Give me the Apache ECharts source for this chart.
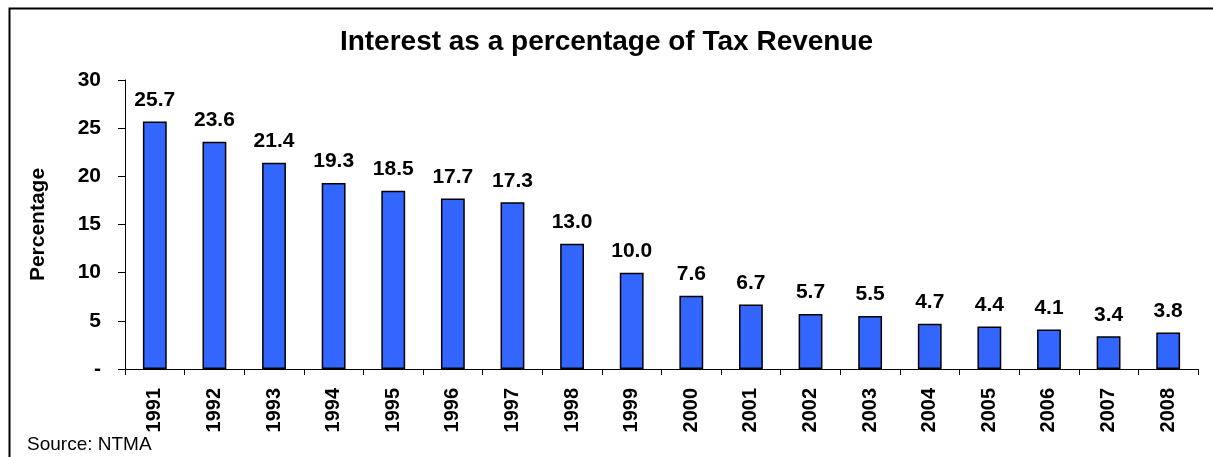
<!DOCTYPE html>
<html>
<head>
<meta charset="utf-8">
<style>
  html, body { margin: 0; padding: 0; background: #fff; }
  #chart { width: 1213px; height: 457px; }
</style>
<script src="https://cdn.jsdelivr.net/npm/echarts@6/dist/echarts.min.js"></script>
</head>
<body>
<div id="chart"></div>
<script>
// Interest payments as a share of tax revenue, by year
const years = ['1991', '1992', '1993', '1994', '1995', '1996', '1997', '1998', '1999',
               '2000', '2001', '2002', '2003', '2004', '2005', '2006', '2007', '2008'];
const interestPct = [25.7, 23.6, 21.4, 19.3, 18.5, 17.7, 17.3, 13.0, 10.0,
                     7.6, 6.7, 5.7, 5.5, 4.7, 4.4, 4.1, 3.4, 3.8];
const yTicks = [0, 5, 10, 15, 20, 25, 30];

const font = 'Liberation Sans, Arial, Helvetica, sans-serif';
const chart = echarts.init(document.getElementById('chart'), null, { renderer: 'canvas' });

chart.setOption({
  animation: false,
  backgroundColor: '#ffffff',
  title: {
    text: 'Interest as a percentage of Tax Revenue',
    left: 'center',
    top: 28,
    padding: 0,
    textStyle: { fontFamily: font, fontSize: 28, fontWeight: 'bold', color: '#000' }
  },
  graphic: [
    {
      type: 'rect',
      left: 7, top: 6,
      shape: { width: 1400, height: 600 },
      style: { fill: 'none', stroke: '#000', lineWidth: 2 },
      silent: true
    },
    {
      type: 'text',
      left: 27, top: 435,
      style: { text: 'Source: NTMA', font: '19px ' + font, fill: '#000' }
    }
  ],
  grid: { left: 125, right: 15, top: 80, bottom: 88, containLabel: false },
  xAxis: {
    type: 'category',
    data: years,
    boundaryGap: true,
    axisLine: { lineStyle: { color: '#000', width: 1 } },
    axisTick: { show: true, length: 6, alignWithLabel: false, lineStyle: { color: '#000' } },
    axisLabel: {
      rotate: 90, margin: 19, interval: 0,
      fontFamily: font, fontSize: 20, fontWeight: 'bold', color: '#000'
    }
  },
  yAxis: {
    type: 'value',
    min: yTicks[0],
    max: yTicks[yTicks.length - 1],
    interval: 5,
    name: 'Percentage',
    nameLocation: 'middle',
    nameGap: 76,
    nameRotate: 90,
    nameTextStyle: { fontFamily: font, fontSize: 21, fontWeight: 'bold', color: '#000' },
    axisLine: { show: true, lineStyle: { color: '#000', width: 1 } },
    axisTick: { show: true, length: 7, lineStyle: { color: '#000' } },
    splitLine: { show: false },
    axisLabel: {
      margin: 24,
      fontFamily: font, fontSize: 21, fontWeight: 'bold', color: '#000',
      formatter: v => (v === 0 ? '-' : String(v))
    }
  },
  series: [{
    type: 'bar',
    data: interestPct,
    barWidth: '40%',
    itemStyle: { color: '#3366FF', borderColor: '#000', borderWidth: 1.5 },
    label: {
      show: true,
      position: 'top',
      distance: 11,
      fontFamily: font, fontSize: 21, fontWeight: 'bold', color: '#000',
      formatter: p => p.value.toFixed(1)
    }
  }]
});
</script>
</body>
</html>
